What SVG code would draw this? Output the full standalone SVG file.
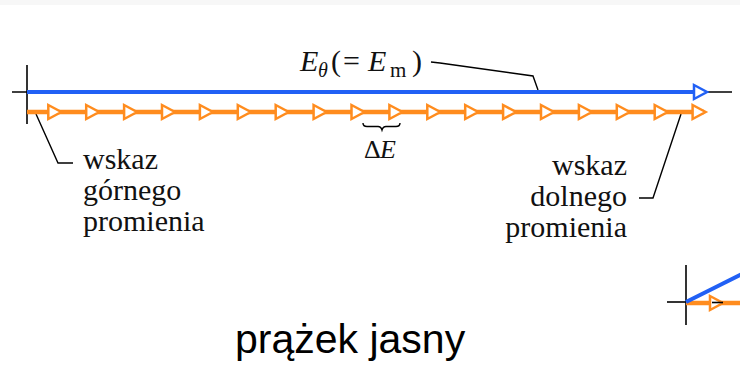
<svg xmlns="http://www.w3.org/2000/svg" xmlns:xlink="http://www.w3.org/1999/xlink" width="740" height="375" viewBox="0 0 740 375">
<style>
.ax{stroke:#000;stroke-width:1.6;fill:none}
.lead{stroke:#000;stroke-width:1.4;fill:none}
.blue{stroke:#2160f5;stroke-width:4;fill:none}
.orange{stroke:#ff8c1e;stroke-width:4.5;fill:none}
.btri{fill:#fff;stroke:#2160f5;stroke-width:2.5}
.otri{fill:#fff;stroke:#ff8c1e;stroke-width:2.5}
.lbl{font-family:"Liberation Serif","Times New Roman",serif;font-size:30px;fill:#111}
.math{font-family:"Liberation Serif","Times New Roman",serif;fill:#111}
.title{font-family:"Liberation Sans",Arial,sans-serif;font-size:41px;fill:#000}
</style>
<defs>
<polygon id="tri" points="-13,-7 0,0 -13,7"/>
</defs>
<rect x="0" y="0" width="740" height="5" fill="#f7f7f7"/>
<rect width="740" height="370" y="5" fill="#fff"/>

<g id="axes">
<line class="ax" x1="27" y1="65" x2="27" y2="124"/>
<line class="ax" x1="12" y1="92" x2="732" y2="92"/>
</g>

<g id="connectors">
<path class="lead" d="M431,62 L440,63 L533,76 L538,90"/>
<path class="lead" d="M36,114 L58,163 L73,163"/>
<path class="lead" d="M681,114 L653,198 L639,198"/>
<path class="lead" d="M363,123 q0,3.5 4,3.5 L378,126.5 q3,0 4,3.5 q1,-3.5 4,-3.5 L396,126.5 q4,0 4,-3.5"/>
</g>

<g id="upper-phasor">
<line class="blue" x1="27" y1="92" x2="694" y2="92"/>
<use xlink:href="#tri" class="btri" x="707" y="92"/>
</g>

<g id="lower-phasors">
<line class="orange" x1="27" y1="112" x2="704" y2="112"/>
<use xlink:href="#tri" class="otri" x="61.3" y="112"/>
<use xlink:href="#tri" class="otri" x="99.2" y="112"/>
<use xlink:href="#tri" class="otri" x="137.1" y="112"/>
<use xlink:href="#tri" class="otri" x="175" y="112"/>
<use xlink:href="#tri" class="otri" x="212.9" y="112"/>
<use xlink:href="#tri" class="otri" x="250.8" y="112"/>
<use xlink:href="#tri" class="otri" x="288.7" y="112"/>
<use xlink:href="#tri" class="otri" x="326.6" y="112"/>
<use xlink:href="#tri" class="otri" x="364.5" y="112"/>
<use xlink:href="#tri" class="otri" x="402.4" y="112"/>
<use xlink:href="#tri" class="otri" x="440.3" y="112"/>
<use xlink:href="#tri" class="otri" x="478.2" y="112"/>
<use xlink:href="#tri" class="otri" x="516.1" y="112"/>
<use xlink:href="#tri" class="otri" x="554" y="112"/>
<use xlink:href="#tri" class="otri" x="591.9" y="112"/>
<use xlink:href="#tri" class="otri" x="629.8" y="112"/>
<use xlink:href="#tri" class="otri" x="667.7" y="112"/>
<use xlink:href="#tri" class="otri" x="705.6" y="112"/>
</g>

<g id="label-E">
<text class="math" y="71"><tspan x="300" font-size="30" font-style="italic">E</tspan><tspan x="318" y="77" font-size="20" font-style="italic">θ</tspan><tspan x="331" y="71" font-size="30">(</tspan><tspan x="343" font-size="30">=</tspan><tspan x="368" font-size="30" font-style="italic">E</tspan><tspan x="390" y="77" font-size="21">m</tspan><tspan x="412" y="71" font-size="30">)</tspan></text>
</g>

<g id="label-dE">
<text class="math" y="158" font-size="26"><tspan x="364">Δ</tspan><tspan x="380" font-style="italic">E</tspan></text>
</g>

<g id="label-upper">
<text class="lbl" x="83" y="169">wskaz</text>
<text class="lbl" x="83" y="200">górnego</text>
<text class="lbl" x="83" y="231">promienia</text>
</g>

<g id="label-lower">
<text class="lbl" x="627" y="175" text-anchor="end">wskaz</text>
<text class="lbl" x="627" y="206" text-anchor="end">dolnego</text>
<text class="lbl" x="627" y="237" text-anchor="end">promienia</text>
</g>

<g id="partial-diagram">
<line class="ax" x1="686" y1="265" x2="686" y2="325"/>
<line class="ax" x1="667" y1="302" x2="686" y2="302"/>
<line class="orange" x1="686" y1="303" x2="740" y2="303"/>
<use xlink:href="#tri" class="otri" x="723" y="303"/>
<line class="ax" x1="712" y1="302.5" x2="723" y2="302.5"/>
<line class="blue" x1="686" y1="302" x2="742" y2="274"/>
</g>

<g id="caption">
<text class="title" x="235" y="353">prążek jasny</text>
</g>
</svg>
